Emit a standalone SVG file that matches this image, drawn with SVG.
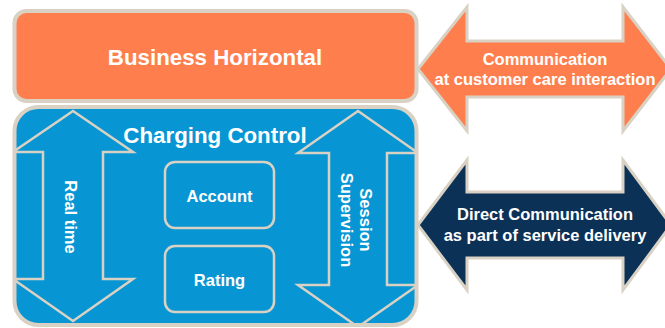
<svg xmlns="http://www.w3.org/2000/svg" width="665" height="328" viewBox="0 0 665 328">
<style>
.t{font-family:"Liberation Sans",Arial,sans-serif;font-weight:bold;fill:#ffffff;text-anchor:middle}
.big{font-size:22.3px}
.mid{font-size:22.3px}
.sm{font-size:16.5px}
.edge{stroke:#D9D2C4;stroke-linejoin:miter}
</style>
<defs>
<clipPath id="cc"><rect x="14.5" y="107" width="402" height="218" rx="24"/></clipPath>
</defs>
<rect width="665" height="328" fill="#ffffff"/>
<g id="business-horizontal">
<rect x="14.5" y="11" width="402" height="90" rx="12" fill="#FE7F4D" class="edge" stroke-width="4"/>
<text class="t big" x="215" y="65">Business Horizontal</text>
</g>
<g id="charging-control">
<rect x="14.5" y="107" width="402" height="218" rx="24" fill="#0796D3"/>
<g clip-path="url(#cc)">
<polygon id="real-time-arrow" points="73,111 133,152 103,152 103,279 133,279 73,321 13,279 43,279 43,152 13,152" fill="#0796D3" class="edge" stroke-width="2.5"/>
<polygon id="session-arrow" points="358,111 418,153 387,153 387,285 418,285 358,327 298,285 329,285 329,153 298,153" fill="#0796D3" class="edge" stroke-width="2.5"/>
</g>
<rect x="14.5" y="107" width="402" height="218" rx="24" fill="none" class="edge" stroke-width="4"/>
<text class="t mid" x="215" y="143">Charging Control</text>
<text class="t sm" transform="translate(65,217) rotate(90)">Real time</text>
<text class="t sm" transform="translate(360,220) rotate(90)"><tspan x="0" y="0">Session</tspan><tspan x="0" y="19">Supervision</tspan></text>
</g>
<g id="account">
<rect x="165" y="162" width="109" height="66" rx="10" fill="#0796D3" class="edge" stroke-width="2.5"/>
<text class="t sm" x="219.5" y="202">Account</text>
</g>
<g id="rating">
<rect x="165" y="246" width="109" height="66" rx="10" fill="#0796D3" class="edge" stroke-width="2.5"/>
<text class="t sm" x="219.5" y="286">Rating</text>
</g>
<g id="connectors">
<g id="customer-care-arrow">
<polygon points="418,69 467,7 467,41 623,41 623,7 671,69 623,131 623,97 467,97 467,131" fill="#FE7F4D" class="edge" stroke-width="3"/>
<text class="t sm" x="545" y="65">Communication</text>
<text class="t sm" x="545" y="85">at customer care interaction</text>
</g>
<g id="service-delivery-arrow">
<polygon points="418,225 467,160 467,192 623,192 623,160 671,225 623,290 623,258 467,258 467,290" fill="#0C3157" class="edge" stroke-width="3"/>
<text class="t sm" x="545" y="220">Direct Communication</text>
<text class="t sm" x="545" y="241">as part of service delivery</text>
</g>
</g>
</svg>
